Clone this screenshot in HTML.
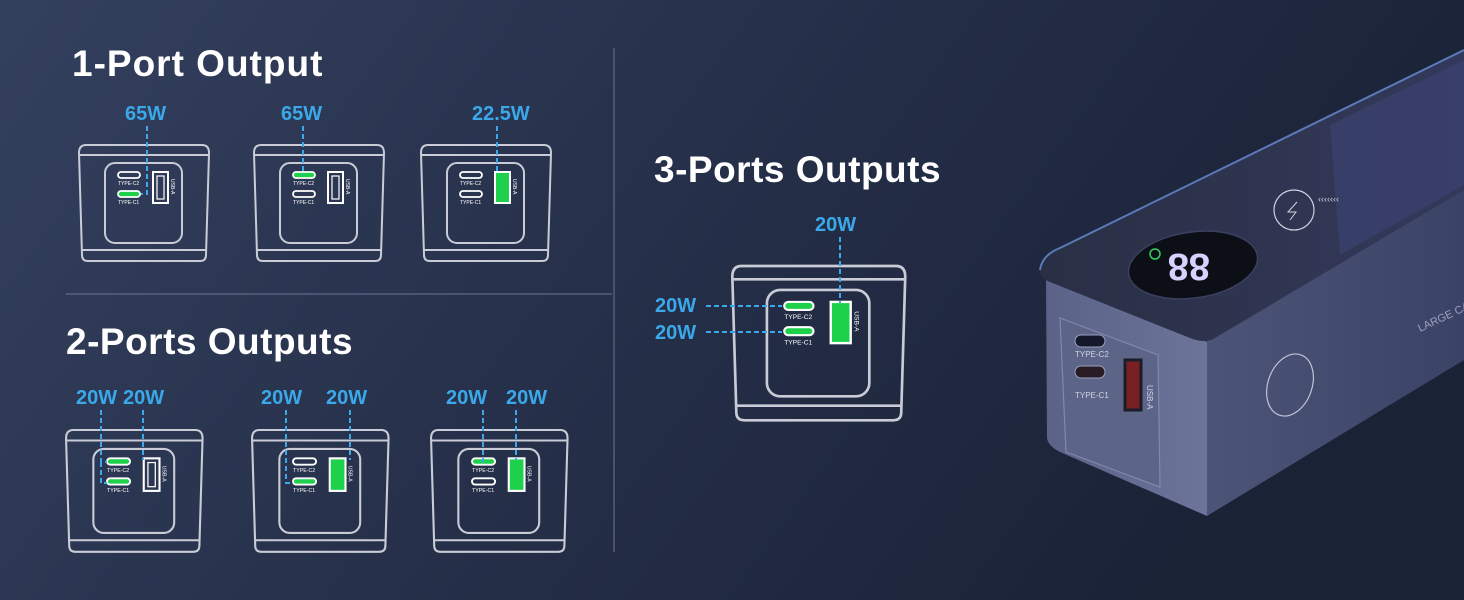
<!DOCTYPE html>
<html><head><meta charset="utf-8"><style>
html,body{margin:0;padding:0;width:1464px;height:600px;overflow:hidden;background:#232d45}
svg{display:block}
text{font-family:"Liberation Sans",sans-serif}
</style></head><body>
<svg width="1464" height="600" viewBox="0 0 1464 600" xmlns="http://www.w3.org/2000/svg">
<defs>
<linearGradient id="bg" x1="0" y1="0" x2="1" y2="0.3">
<stop offset="0" stop-color="#33405e"/><stop offset="0.5" stop-color="#26304a"/><stop offset="1" stop-color="#1a2236"/>
</linearGradient>
<linearGradient id="side" x1="0" y1="0" x2="1" y2="0">
<stop offset="0" stop-color="#4c5478"/><stop offset="1" stop-color="#3a4266"/>
</linearGradient>
<linearGradient id="front" x1="0" y1="0" x2="1" y2="0">
<stop offset="0" stop-color="#5a6288"/><stop offset="1" stop-color="#6d749a"/>
</linearGradient>
<linearGradient id="top" x1="0" y1="0" x2="1" y2="0">
<stop offset="0" stop-color="#2a2f45"/><stop offset="1" stop-color="#33395a"/>
</linearGradient>
<g id="box" fill="none" stroke="#c9ccd6" stroke-width="2">
<path d="M8 0 H124 Q131 0 131 8 L128 110 Q128 116 122 116 H10 Q4 116 4 110 L1 8 Q1 0 8 0Z"/>
<line x1="1" y1="10" x2="131" y2="10"/><line x1="4" y1="105" x2="128" y2="105"/>
<rect x="27" y="18" width="77" height="80" rx="10"/>
</g>
<g id="lbl" fill="#fff">
<text x="40" y="40" font-size="5">TYPE-C2</text>
<text x="40" y="59" font-size="5">TYPE-C1</text>
<text x="93" y="34" font-size="5" transform="rotate(90 93 34)">USB-A</text>
</g>
</defs>
<rect width="1464" height="600" fill="url(#bg)"/>

<line x1="614" y1="48" x2="614" y2="552" stroke="#6b7692" stroke-width="1"/>
<line x1="66" y1="294" x2="612" y2="294" stroke="#6b7692" stroke-width="1"/>

<g fill="#fff" font-weight="bold">
<text x="72" y="76" font-size="37" letter-spacing="1">1-Port Output</text>
<text x="66" y="354" font-size="37" letter-spacing="0.5">2-Ports Outputs</text>
<text x="654" y="182" font-size="37" letter-spacing="0.5">3-Ports Outputs</text>
</g>

<use href="#box" transform="translate(78,145)"/>
<use href="#box" transform="translate(253,145)"/>
<use href="#box" transform="translate(420,145)"/>
<use href="#box" transform="translate(65,430) scale(1.05)"/>
<use href="#box" transform="translate(251,430) scale(1.05)"/>
<use href="#box" transform="translate(430,430) scale(1.05)"/>
<use href="#box" transform="translate(731,266) scale(1.33)"/>

<g transform="translate(78,145)">
<rect x="40" y="27" width="22" height="6" rx="3" fill="none" stroke="#fff" stroke-width="1.8"/>
<rect x="40" y="46" width="22" height="6" rx="3" fill="#1ed14a" stroke="#fff" stroke-width="1.8"/>
<rect x="75" y="27" width="15" height="31" fill="none" stroke="#fff" stroke-width="2"/>
<rect x="79" y="31" width="7" height="23" fill="none" stroke="#fff" stroke-width="1.2"/>
<use href="#lbl"/>
</g>
<g transform="translate(253,145)">
<rect x="40" y="27" width="22" height="6" rx="3" fill="#1ed14a" stroke="#fff" stroke-width="1.8"/>
<rect x="40" y="46" width="22" height="6" rx="3" fill="none" stroke="#fff" stroke-width="1.8"/>
<rect x="75" y="27" width="15" height="31" fill="none" stroke="#fff" stroke-width="2"/>
<rect x="79" y="31" width="7" height="23" fill="none" stroke="#fff" stroke-width="1.2"/>
<use href="#lbl"/>
</g>
<g transform="translate(420,145)">
<rect x="40" y="27" width="22" height="6" rx="3" fill="none" stroke="#fff" stroke-width="1.8"/>
<rect x="40" y="46" width="22" height="6" rx="3" fill="none" stroke="#fff" stroke-width="1.8"/>
<rect x="75" y="27" width="15" height="31" fill="#1ed14a" stroke="#fff" stroke-width="2"/>
<use href="#lbl"/>
</g>
<g transform="translate(65,430) scale(1.05)">
<rect x="40" y="27" width="22" height="6" rx="3" fill="#1ed14a" stroke="#fff" stroke-width="1.8"/>
<rect x="40" y="46" width="22" height="6" rx="3" fill="#1ed14a" stroke="#fff" stroke-width="1.8"/>
<rect x="75" y="27" width="15" height="31" fill="none" stroke="#fff" stroke-width="2"/>
<rect x="79" y="31" width="7" height="23" fill="none" stroke="#fff" stroke-width="1.2"/>
<use href="#lbl"/>
</g>
<g transform="translate(251,430) scale(1.05)">
<rect x="40" y="27" width="22" height="6" rx="3" fill="none" stroke="#fff" stroke-width="1.8"/>
<rect x="40" y="46" width="22" height="6" rx="3" fill="#1ed14a" stroke="#fff" stroke-width="1.8"/>
<rect x="75" y="27" width="15" height="31" fill="#1ed14a" stroke="#fff" stroke-width="2"/>
<use href="#lbl"/>
</g>
<g transform="translate(430,430) scale(1.05)">
<rect x="40" y="27" width="22" height="6" rx="3" fill="#1ed14a" stroke="#fff" stroke-width="1.8"/>
<rect x="40" y="46" width="22" height="6" rx="3" fill="none" stroke="#fff" stroke-width="1.8"/>
<rect x="75" y="27" width="15" height="31" fill="#1ed14a" stroke="#fff" stroke-width="2"/>
<use href="#lbl"/>
</g>
<g transform="translate(731,266) scale(1.33)">
<rect x="40" y="27" width="22" height="6" rx="3" fill="#1ed14a" stroke="#fff" stroke-width="1.6"/>
<rect x="40" y="46" width="22" height="6" rx="3" fill="#1ed14a" stroke="#fff" stroke-width="1.6"/>
<rect x="75" y="27" width="15" height="31" fill="#1ed14a" stroke="#fff" stroke-width="1.8"/>
<use href="#lbl"/>
</g>

<g fill="#3aa8ea" font-weight="bold" font-size="20">
<text x="125" y="120">65W</text><text x="281" y="120">65W</text><text x="472" y="120">22.5W</text>
<text x="76" y="404">20W</text><text x="123" y="404">20W</text>
<text x="261" y="404">20W</text><text x="326" y="404">20W</text>
<text x="446" y="404">20W</text><text x="506" y="404">20W</text>
<text x="815" y="231">20W</text>
<text x="655" y="312">20W</text><text x="655" y="339">20W</text>
</g>
<g stroke="#3aa8ea" stroke-width="2" stroke-dasharray="5,3" fill="none">
<path d="M147 126 V194 H141"/>
<path d="M303 126 V175"/>
<path d="M497 126 V174"/>
<path d="M101 410 V462 H107 M101 462 V483 H107"/>
<path d="M143 410 V460"/>
<path d="M286 410 V483 H293"/>
<path d="M350 410 V460"/>
<path d="M483 410 V463"/>
<path d="M516 410 V460"/>
<path d="M840 237 V303"/>
<path d="M706 306 H782 M706 332 H782"/>
</g>

<!-- power bank -->
<path d="M1207 340 L1464 190 L1464 360 L1207 516Z" fill="url(#side)"/>
<path d="M1046 278 Q1040 272 1048 268 L1207 342 L1207 516 L1060 452 Q1048 446 1047 438Z" fill="url(#front)"/>
<path d="M1040 270 Q1042 255 1060 248 L1464 50 L1464 190 L1215 338 Q1205 344 1190 338 L1050 282 Q1040 278 1040 270Z" fill="url(#top)"/>
<path d="M1040 270 Q1042 255 1060 248 L1464 50" stroke="#5a7ab8" stroke-width="2" fill="none"/>
<path d="M1330 125 L1464 60 L1464 185 L1340 255Z" fill="#3a4270" opacity="0.7"/>
<ellipse cx="1193" cy="265" rx="65" ry="33" transform="rotate(-8 1193 265)" fill="#0d0f17" stroke="#3a4060" stroke-width="1.5"/>
<text x="1160" y="282" font-size="38" fill="#d6d2ff" font-weight="bold" transform="rotate(180 1185 268)">88</text>
<circle cx="1155" cy="254" r="5" fill="none" stroke="#30d060" stroke-width="1.5"/>
<circle cx="1294" cy="210" r="20" fill="none" stroke="#cfd2e0" stroke-width="1.2"/>
<path d="M1297 202 L1288 212 L1296 212 L1290 220" stroke="#cfd2e0" fill="none"/>
<text x="1318" y="202" font-size="9" fill="#cfd2e0">‹‹‹‹‹‹‹</text>
<path d="M1060 318 L1158 355 L1160 487 L1066 452Z" fill="#5c6488" stroke="#8089ad" stroke-width="1.2"/>
<rect x="1075" y="335" width="30" height="12" rx="6" fill="#15182a" stroke="#9aa0c0"/>
<rect x="1075" y="366" width="30" height="12" rx="6" fill="#2a1c24" stroke="#9aa0c0"/>
<text x="1075" y="357" font-size="8" fill="#d0d4e4">TYPE-C2</text>
<text x="1075" y="398" font-size="8" fill="#d0d4e4">TYPE-C1</text>
<rect x="1125" y="360" width="16" height="50" fill="#7a1f22" stroke="#1a1c2a" stroke-width="3"/>
<text x="1147" y="385" font-size="8" fill="#d0d4e4" transform="rotate(90 1147 385)">USB-A</text>
<ellipse cx="1290" cy="385" rx="22" ry="32" transform="rotate(20 1290 385)" fill="none" stroke="#c0c4d8" stroke-width="1.2"/>
<text x="1420" y="332" font-size="11" fill="#9aa0c0" transform="rotate(-25 1420 332)">LARGE CA</text>
</svg>
</body></html>
